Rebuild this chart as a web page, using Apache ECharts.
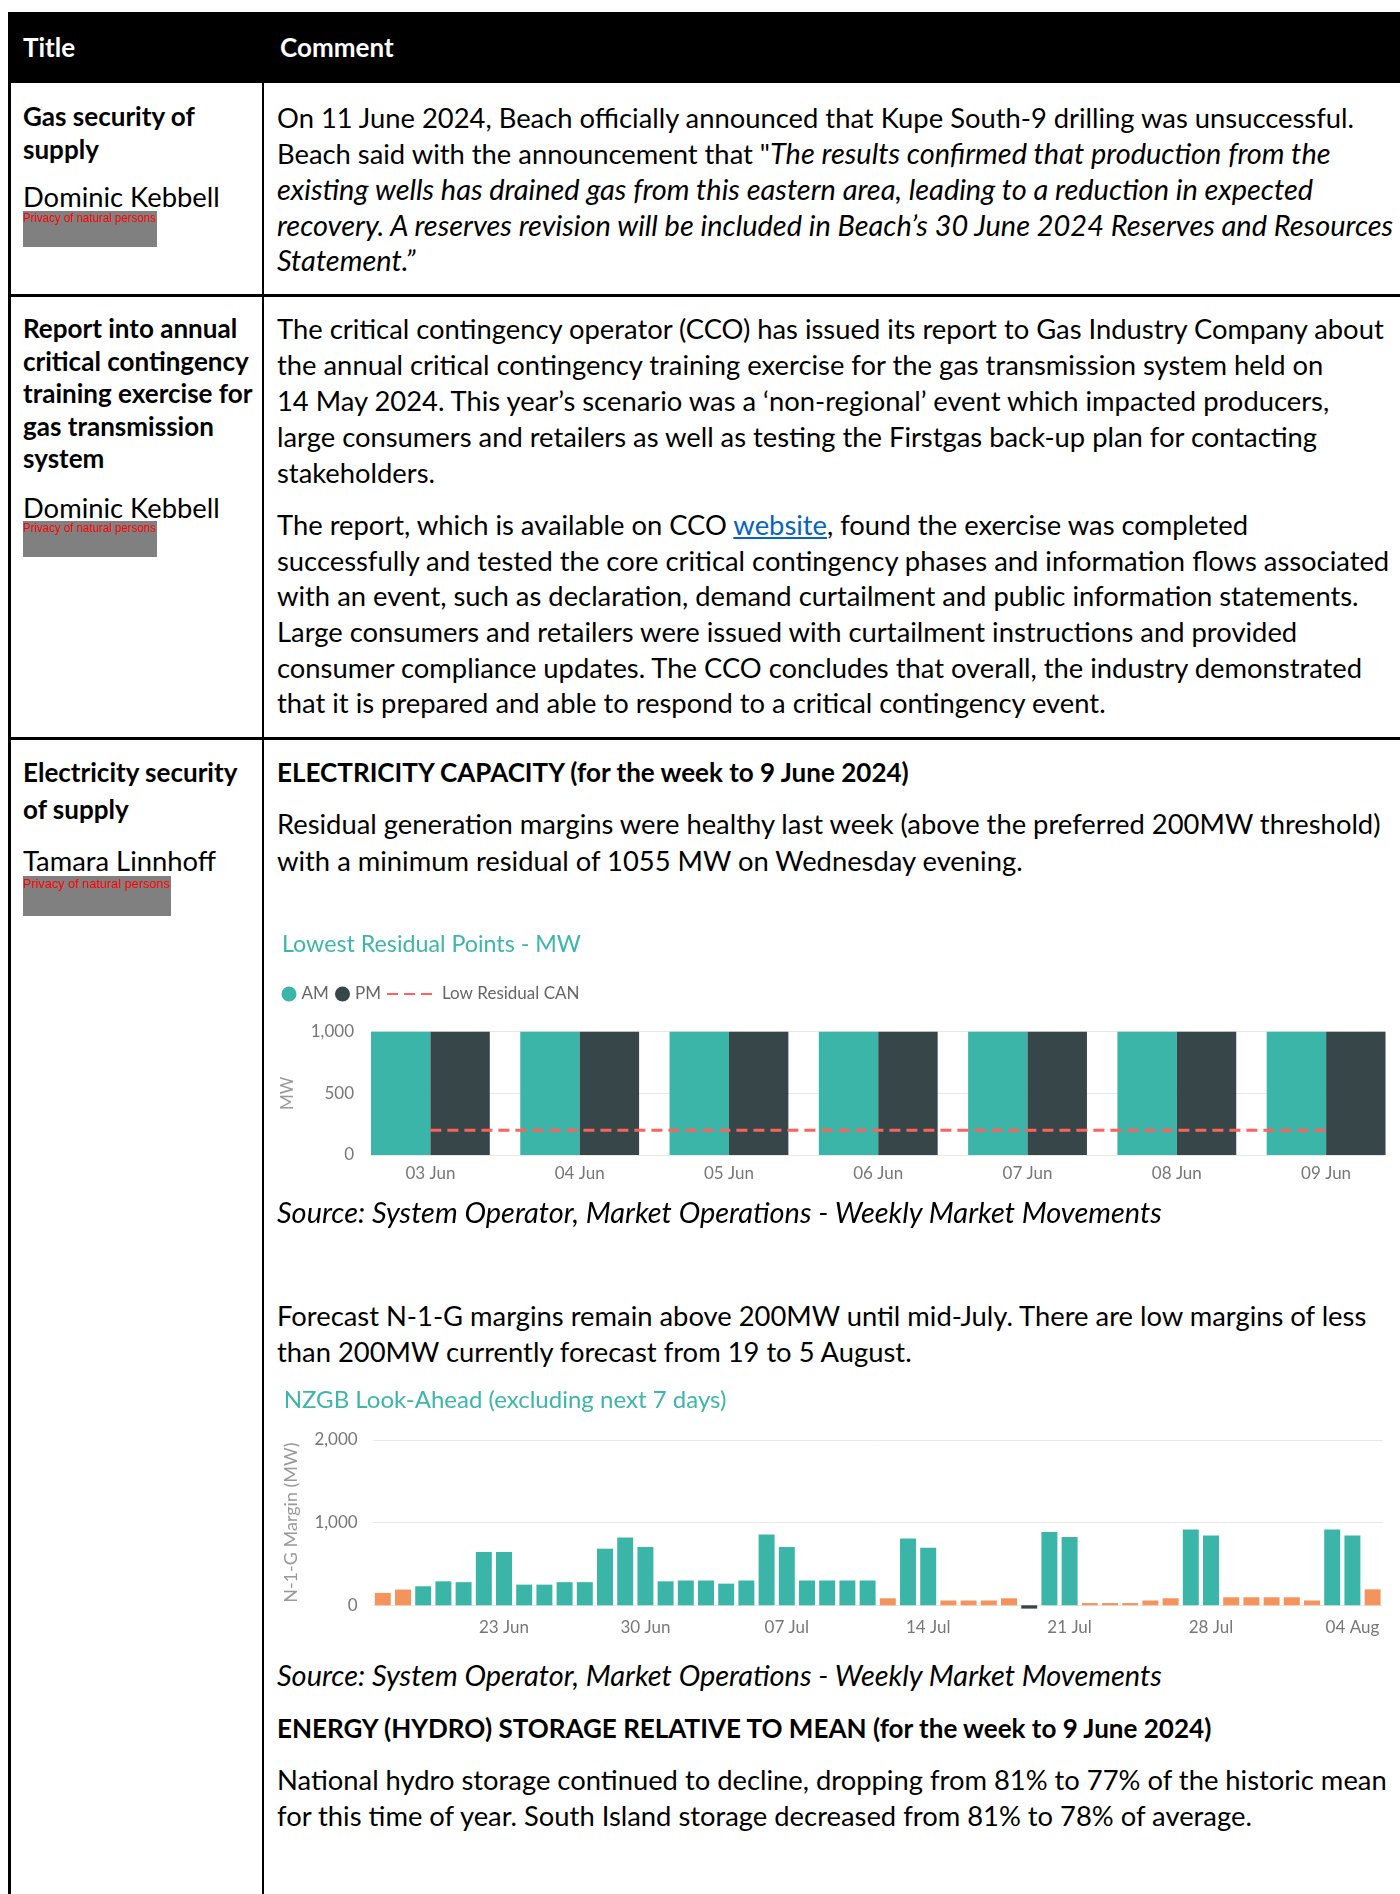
<!DOCTYPE html>
<html><head><meta charset="utf-8">
<script src="https://cdn.jsdelivr.net/npm/echarts@6/dist/echarts.min.js"></script>
<style>
html,body{margin:0;padding:0;background:#fff;}
#page{position:relative;width:1400px;height:1894px;overflow:hidden;font-family:Lato,'Open Sans',sans-serif;color:#000;}
.ln{position:absolute;white-space:nowrap;line-height:1;}
.rule{position:absolute;background:#000;}
.pbox{position:absolute;background:#808080;}
.ptxt{position:absolute;color:#ff0000;font-family:'Liberation Sans',Arial,sans-serif;white-space:nowrap;line-height:1;transform-origin:0 0;}
a{color:#0563C1;text-decoration:underline;}
</style></head>
<body><div id="page">
<div class="rule" style="left:8px;top:12px;width:1400px;height:71px;"></div>
<div class="rule" style="left:8px;top:12px;width:2.5px;height:1900px;"></div>
<div class="rule" style="left:261.5px;top:83px;width:2.5px;height:1900px;"></div>
<div class="rule" style="left:8px;top:294px;width:1400px;height:2.5px;"></div>
<div class="rule" style="left:8px;top:737px;width:1400px;height:2.5px;"></div>
<div id="c1" style="position:absolute;left:262px;top:920px;width:1160px;height:280px;"></div>
<div id="c2" style="position:absolute;left:262px;top:1380px;width:1138px;height:270px;"></div>
</div>
<script>
// ---------- chart data ----------
const residualDays = ['03 Jun','04 Jun','05 Jun','06 Jun','07 Jun','08 Jun','09 Jun'];
const residualAM = [1480, 1390, 1350, 1420, 1510, 1620, 1660];
const residualPM = [1210, 1130, 1055, 1150, 1190, 1310, 1400];
const lowResidualCAN = [200, 200, 200, 200, 200, 200, 200];
const residualTicks = [0, 500, 1000];

const lookAheadDates = ['17 Jun','18 Jun','19 Jun','20 Jun','21 Jun','22 Jun','23 Jun','24 Jun','25 Jun','26 Jun','27 Jun','28 Jun','29 Jun','30 Jun',
 '01 Jul','02 Jul','03 Jul','04 Jul','05 Jul','06 Jul','07 Jul','08 Jul','09 Jul','10 Jul','11 Jul','12 Jul','13 Jul','14 Jul','15 Jul','16 Jul',
 '17 Jul','18 Jul','19 Jul','20 Jul','21 Jul','22 Jul','23 Jul','24 Jul','25 Jul','26 Jul','27 Jul','28 Jul','29 Jul','30 Jul','31 Jul',
 '01 Aug','02 Aug','03 Aug','04 Aug','05 Aug'];
const lookAheadMargin = [150, 190, 230, 290, 280, 645, 645, 250, 250, 280, 280, 685, 820, 705, 290, 300, 300, 262, 300, 858, 705, 300, 300, 300, 300,
 85, 808, 695, 58, 58, 58, 85, -40, 887, 827, 27, 27, 27, 58, 85, 918, 846, 97, 97, 97, 97, 58, 918, 846, 193];
const lookAheadTicks = [0, 1000, 2000];

// ---------- text helpers ----------
const cv = document.createElement('canvas').getContext('2d');
function fit(text, style, weight, family, target){
  cv.font = style+' '+weight+' 100px '+family;
  return 100*target/cv.measureText(text).width;
}
const FS = {
  reg: fit('Residual generation margins were healthy last week (above the preferred 200MW threshold)','normal','400','Lato',1106),
  bold: fit('ELECTRICITY CAPACITY (for the week to 9 June 2024)','normal','700','Lato',636),
  it: fit('Source: System Operator, Market Operations - Weekly Market Movements','italic','400','Lato',886)
};
const page = document.getElementById('page');
function line(x, cy, cls, html, color){
  const d = document.createElement('div');
  d.className = 'ln';
  const fs = FS[cls];
  d.style.fontSize = fs+'px';
  if(cls==='bold') d.style.fontWeight='700';
  if(cls==='it') d.style.fontStyle='italic';
  if(color) d.style.color=color;
  d.style.left = x+'px';
  d.style.top = (cy - 0.53*fs)+'px';
  d.innerHTML = html;
  d.querySelectorAll('i').forEach(e=>{ e.style.fontSize = FS.it+'px'; });
  page.appendChild(d);
}
function privacy(x, y, w, h, tcy, fs){
  const b=document.createElement('div'); b.className='pbox';
  b.style.cssText+='left:'+x+'px;top:'+y+'px;width:'+w+'px;height:'+h+'px;';
  page.appendChild(b);
  const t=document.createElement('div'); t.className='ptxt';
  const txt='Privacy of natural persons';
  cv.font='normal 400 '+fs+'px Liberation Sans';
  const k=(w-1)/cv.measureText(txt).width;
  t.style.fontSize=fs+'px'; t.style.left=x+'px'; t.style.top=(tcy-0.55*fs)+'px';
  t.style.transform='scaleX('+k+')';
  t.textContent=txt;
  page.appendChild(t);
}
const TX = 23, CX = 277;
line(TX, 48, 'bold', 'Title', '#fff');
line(280, 48, 'bold', 'Comment', '#fff');
// row 1
line(TX, 116.7, 'bold', 'Gas security of');
line(TX, 150, 'bold', 'supply');
line(TX, 198, 'reg', 'Dominic Kebbell');
privacy(23, 211, 134, 36, 218.5, 12.5);
line(CX, 118.3, 'reg', 'On 11 June 2024, Beach officially announced that Kupe South-9 drilling was unsuccessful.');
line(CX, 154, 'reg', 'Beach said with the announcement that "<i>The results confirmed that production from the</i>');
line(CX, 190, 'it', 'existing wells has drained gas from this eastern area, leading to a reduction in expected');
line(CX, 226, 'it', 'recovery. A reserves revision will be included in Beach’s 30 June 2024 Reserves and Resources');
line(CX, 261.7, 'it', 'Statement.”');
// row 2
line(TX, 329.3, 'bold', 'Report into annual');
line(TX, 362, 'bold', 'critical contingency');
line(TX, 394.3, 'bold', 'training exercise for');
line(TX, 426.7, 'bold', 'gas transmission');
line(TX, 459.3, 'bold', 'system');
line(TX, 508.3, 'reg', 'Dominic Kebbell');
privacy(23, 521, 134, 36, 528.8, 12.5);
line(CX, 330, 'reg', 'The critical contingency operator (CCO) has issued its report to Gas Industry Company about');
line(CX, 365.5, 'reg', 'the annual critical contingency training exercise for the gas transmission system held on');
line(CX, 401.5, 'reg', '14 May 2024. This year’s scenario was a ‘non-regional’ event which impacted producers,');
line(CX, 438, 'reg', 'large consumers and retailers as well as testing the Firstgas back-up plan for contacting');
line(CX, 474, 'reg', 'stakeholders.');
line(CX, 526, 'reg', 'The report, which is available on CCO <a>website</a>, found the exercise was completed');
line(CX, 561.7, 'reg', 'successfully and tested the core critical contingency phases and information flows associated');
line(CX, 597, 'reg', 'with an event, such as declaration, demand curtailment and public information statements.');
line(CX, 633, 'reg', 'Large consumers and retailers were issued with curtailment instructions and provided');
line(CX, 668.5, 'reg', 'consumer compliance updates. The CCO concludes that overall, the industry demonstrated');
line(CX, 704, 'reg', 'that it is prepared and able to respond to a critical contingency event.');
// row 3
line(TX, 773.3, 'bold', 'Electricity security');
line(TX, 810, 'bold', 'of supply');
line(TX, 861.7, 'reg', 'Tamara Linnhoff');
privacy(23, 876, 148, 40, 884.5, 13.5);
line(CX, 773, 'bold', 'ELECTRICITY CAPACITY (for the week to 9 June 2024)');
line(CX, 825, 'reg', 'Residual generation margins were healthy last week (above the preferred 200MW threshold)');
line(CX, 861.5, 'reg', 'with a minimum residual of 1055 MW on Wednesday evening.');
line(CX, 1213, 'it', 'Source: System Operator, Market Operations - Weekly Market Movements');
line(CX, 1316.6, 'reg', 'Forecast N-1-G margins remain above 200MW until mid-July. There are low margins of less');
line(CX, 1352.8, 'reg', 'than 200MW currently forecast from 19 to 5 August.');
line(CX, 1676.6, 'it', 'Source: System Operator, Market Operations - Weekly Market Movements');
line(CX, 1728.5, 'bold', 'ENERGY (HYDRO) STORAGE RELATIVE TO MEAN (for the week to 9 June 2024)');
line(CX, 1780.5, 'reg', 'National hydro storage continued to decline, dropping from 81% to 77% of the historic mean');
line(CX, 1816.7, 'reg', 'for this time of year. South Island storage decreased from 81% to 78% of average.');

// ---------- charts ----------
const TEAL = '#3BB5A8', DARK = '#374649', RED = '#FD625E', ORANGE = '#F4935B';
const AXC = '#777777', FF = 'Lato', AFS = 17;
const fmt = v => Number(v).toLocaleString('en-US');

const t1 = 'Lowest Residual Points - MW';
const t1fs = fit(t1,'normal','400',FF,299);
const c1 = echarts.init(document.getElementById('c1'), null, {renderer:'canvas'});
c1.setOption({
  animation:false,
  title:{text:t1, left:20, top:25 - t1fs/2, padding:0,
    textStyle:{fontSize:t1fs, lineHeight:t1fs, color:'#3DB6A9', fontWeight:'normal', fontFamily:FF}},
  legend:[
    {data:['AM'], left:19.5, top:65.5, icon:'circle', itemWidth:15, itemHeight:15, padding:0,
      textStyle:{fontSize:AFS, color:'#666', fontFamily:FF}},
    {data:['PM'], left:73, top:65.5, icon:'circle', itemWidth:15, itemHeight:15, padding:0,
      textStyle:{fontSize:AFS, color:'#666', fontFamily:FF}},
    {data:[{name:'Low Residual CAN', itemStyle:{opacity:0}}], left:124, top:65.5, itemWidth:50, itemHeight:15, padding:0,
      textStyle:{fontSize:AFS, color:'#666', fontFamily:FF}}
  ],
  grid:[
    {left:93.75, top:111.7, width:1045, height:123.3},
    {left:109, top:111.7, width:1014.5, height:123.3}
  ],
  xAxis:[
    {type:'category', gridIndex:0, data:residualDays, axisLine:{show:false}, axisTick:{show:false},
      axisLabel:{color:AXC, fontSize:AFS, fontFamily:FF, margin:10}},
    {type:'category', gridIndex:1, data:residualDays, show:false}
  ],
  yAxis:[
    {type:'value', gridIndex:0, min:0, max:1000, show:false},
    {type:'value', gridIndex:1, min:residualTicks[0], max:residualTicks[2], interval:residualTicks[1]-residualTicks[0],
      axisLine:{show:false}, axisTick:{show:false},
      axisLabel:{color:AXC, fontSize:AFS, fontFamily:FF, margin:17, formatter:fmt},
      splitLine:{lineStyle:{color:'#e8e8e8', width:1}},
      name:'MW', nameLocation:'middle', nameRotate:90, nameGap:75,
      nameTextStyle:{color:'#999', fontSize:AFS, fontFamily:FF}}
  ],
  series:[
    {name:'AM', type:'bar', xAxisIndex:0, yAxisIndex:0, data:residualAM, itemStyle:{color:TEAL},
      barGap:'0%', barCategoryGap:'20.4%'},
    {name:'PM', type:'bar', xAxisIndex:0, yAxisIndex:0, data:residualPM, itemStyle:{color:DARK},
      barGap:'0%', barCategoryGap:'20.4%'},
    {name:'Low Residual CAN', type:'line', xAxisIndex:0, yAxisIndex:0, data:lowResidualCAN, symbol:'none', z:5,
      itemStyle:{color:RED}, lineStyle:{color:RED, width:3, type:[11,6]}}
  ]
});

const t2 = 'NZGB Look-Ahead (excluding next 7 days)';
const t2fs = fit(t2,'normal','400',FF,443);
const c2 = echarts.init(document.getElementById('c2'), null, {renderer:'canvas'});
c2.setOption({
  animation:false,
  title:{text:t2, left:21.7, top:20 - t2fs/2, padding:0,
    textStyle:{fontSize:t2fs, lineHeight:t2fs, color:'#3DB6A9', fontWeight:'normal', fontFamily:FF}},
  grid:{left:110.7, top:60, width:1010, height:165.3},
  xAxis:{type:'category', data:lookAheadDates, axisLine:{show:false}, axisTick:{show:false},
    axisLabel:{color:AXC, fontSize:AFS, fontFamily:FF, margin:14,
      interval:(i)=> i>=6 && (i-6)%7===0}},
  yAxis:{type:'value', min:lookAheadTicks[0], max:lookAheadTicks[2], interval:lookAheadTicks[1]-lookAheadTicks[0],
    axisLine:{show:false}, axisTick:{show:false},
    axisLabel:{color:AXC, fontSize:AFS, fontFamily:FF, margin:15, formatter:fmt},
    splitLine:{lineStyle:{color:'#e8e8e8', width:1}},
    name:'N-1-G Margin (MW)', nameLocation:'middle', nameRotate:90, nameGap:73,
    nameTextStyle:{color:'#999', fontSize:18, fontFamily:FF}},
  series:[{name:'N-1-G Margin', type:'bar', data:lookAheadMargin, barCategoryGap:'21%', clip:false,
    itemStyle:{color:(p)=> p.value < 0 ? DARK : (p.value < 200 ? ORANGE : TEAL)}}]
});
</script>
</body></html>
